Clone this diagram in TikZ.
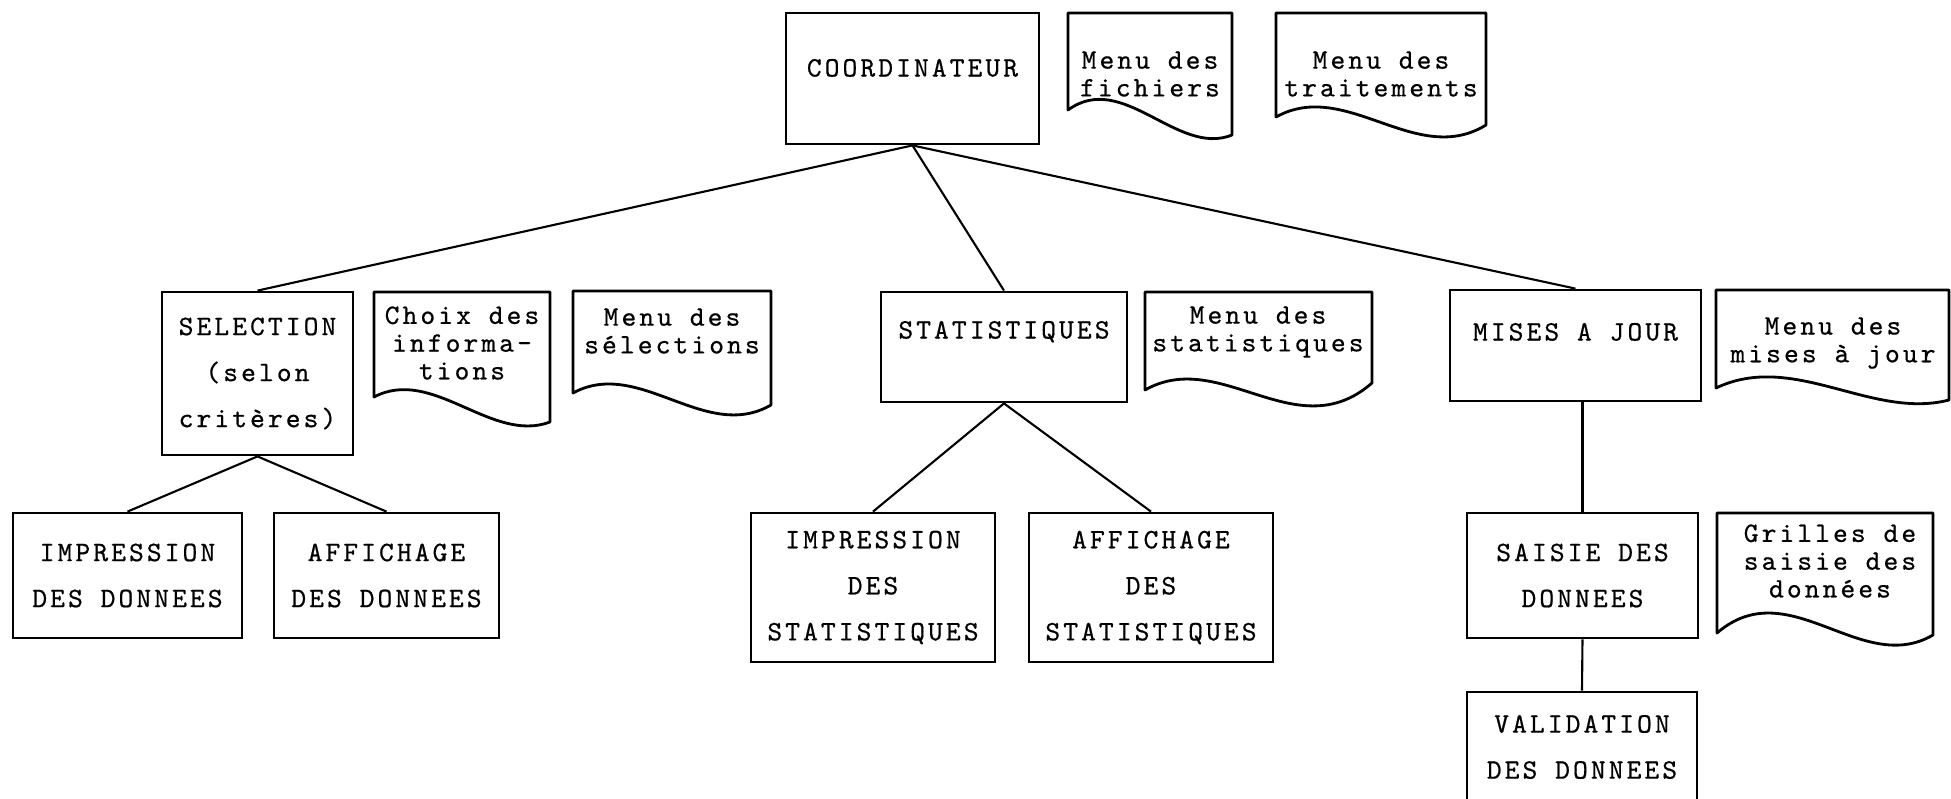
\documentclass[tikz,border=0pt]{standalone}
\usepackage{fontspec}
\usepackage{tikz}
\usetikzlibrary{shapes,arrows}
\newfontfamily\typew{lmmono10-regular.otf}[LetterSpace=11, FakeBold=0.6]
\tikzstyle{box} = [draw, line width=0.8pt, inner sep=0pt, align=center, font=\typew\fontsize{8}{13.1}\selectfont]
\tikzstyle{link} = [line width=0.6pt]
\tikzstyle{docline} = [draw, line width=0.8pt, line join=round]
\tikzstyle{doctext} = [align=center, inner sep=0pt, font=\typew\fontsize{8}{7.9}\selectfont]
% menu sheet: left, right, top, bottom left, bottom right, rise, dip
\newcommand{\menudoc}[7]{%
  \draw[docline] (#1,#3) -- (#2,#3) -- (#2,#5)
    .. controls ({#1+2*(#2-#1)/3},{#5+#7}) and ({#1+(#2-#1)/3},{#4-#6}) .. (#1,#4) -- cycle;
}

\begin{document}
\begin{tikzpicture}[x=0.1mm, y=-0.1mm]
      \useasboundingbox (0,0) rectangle (1951,798);

      \node[box, minimum width=25.3mm, minimum height=13.1mm, text height=1.5mm, text depth=1.9mm] (coord) at (912.5,78.5) {COORDINATEUR};

      \node[box, minimum width=19.1mm, minimum height=16.3mm] (sel) at (257.5,373.5) {SELECTION\\(selon\\critères)};
      \node[box, minimum width=24.6mm, minimum height=11mm, text height=1.5mm, text depth=3.2mm] (stat) at (1004,347) {STATISTIQUES};
      \node[box, minimum width=25.1mm, minimum height=11.1mm, text height=1.5mm, text depth=2.5mm] (maj) at (1575.5,345.5) {MISES A JOUR};

      \node[box, minimum width=22.9mm, minimum height=12.5mm] (impd) at (127.5,575.5) {IMPRESSION\\DES DONNEES};
      \node[box, minimum width=22.5mm, minimum height=12.5mm] (affd) at (386.5,575.5) {AFFICHAGE\\DES DONNEES};
      \node[box, minimum width=24.4mm, minimum height=14.9mm] (imps) at (873,587.5) {IMPRESSION\\DES\\STATISTIQUES};
      \node[box, minimum width=24.4mm, minimum height=14.9mm] (affs) at (1151,587.5) {AFFICHAGE\\DES\\STATISTIQUES};
      \node[box, minimum width=23.1mm, minimum height=12.5mm] (saisie) at (1582.5,575.5) {SAISIE DES\\DONNEES};
      \node[box, minimum width=23mm, minimum height=11mm] (valid) at (1582,747) {VALIDATION\\DES DONNEES};

      \draw[link] (coord.south) -- (sel.north);
      \draw[link] (coord.south) -- (stat.north);
      \draw[link] (coord.south) -- (maj.north);
      \draw[link] (sel.south) -- (impd.north);
      \draw[link] (sel.south) -- (affd.north);
      \draw[link] (stat.south) -- (imps.north);
      \draw[link] (stat.south) -- (affs.north);
      \draw[link] (saisie.north |- maj.south) -- (saisie.north);
      \draw[link] (saisie.south) -- (valid.north);

      \menudoc{1068}{1232}{13}{110}{135}{40}{22}
      \node[doctext] (mfich) at (1150,74) {Menu des\\fichiers};
      \menudoc{1276}{1486}{13}{117}{125}{39}{43}
      \node[doctext] (mtrait) at (1381,74) {Menu des\\traitements};
      \menudoc{374}{550}{292}{397}{422}{31}{22}
      \node[doctext] (choix) at (462,343) {Choix des\\informa-\\tions};
      \menudoc{573}{771}{291}{393}{405}{36}{38}
      \node[doctext] (msel) at (672,331) {Menu des\\sélections};
      \menudoc{1145}{1372}{292}{390}{383}{43}{66}
      \node[doctext] (mstat) at (1258,332) {Menu des\\statistiques};
      \menudoc{1716}{1949}{290}{388}{400}{37}{20}
      \node[doctext] (mmaj) at (1833,343) {Menu des\\mises à jour};
      \menudoc{1717}{1933}{513}{633}{635}{62}{42}
      \node[doctext] (grilles) at (1830,561) {Grilles de\\saisie des\\données};
    \end{tikzpicture}
\end{document}
